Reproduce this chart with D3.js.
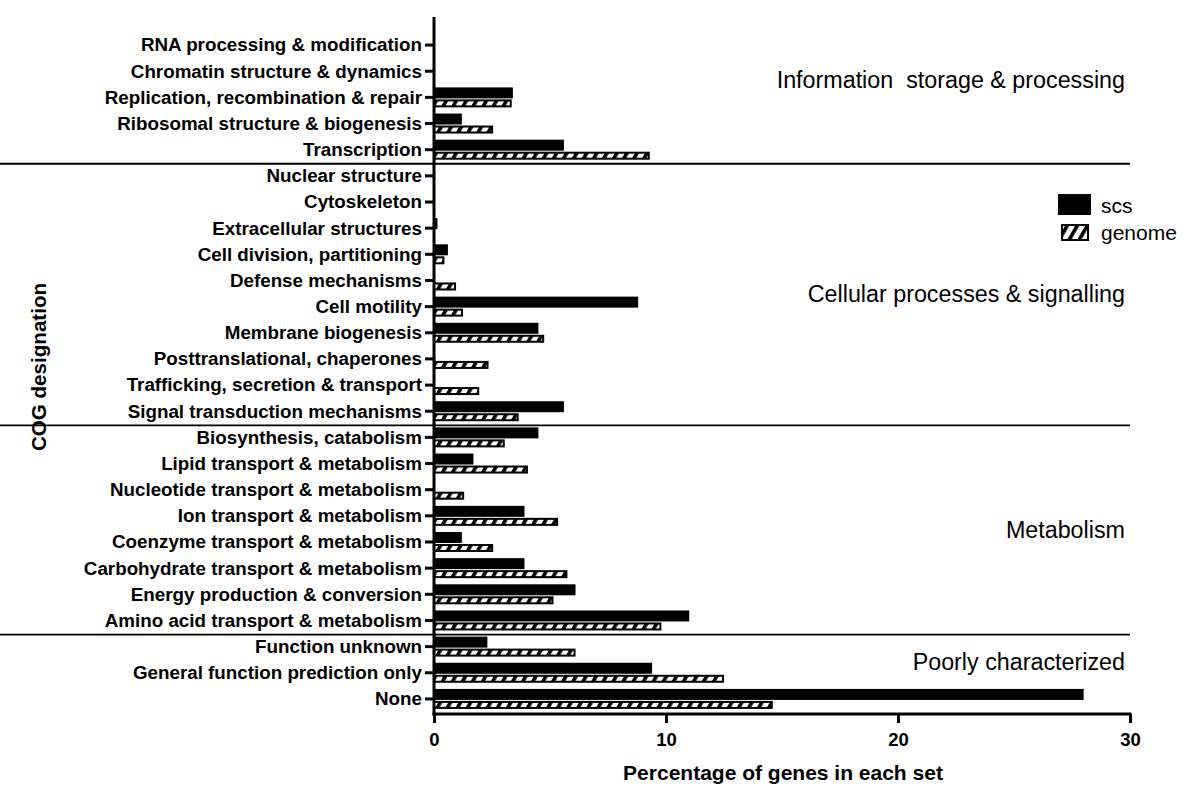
<!DOCTYPE html>
<html><head><meta charset="utf-8">
<script src="https://cdn.jsdelivr.net/npm/d3@7"></script>
<style>body{margin:0;background:#fff}svg{display:block}text{font-family:"Liberation Sans",Arial,sans-serif}</style>
</head><body>
<svg id="c" width="1200" height="805"></svg>
<script>
const categories = [
"RNA processing & modification","Chromatin structure & dynamics","Replication, recombination & repair","Ribosomal structure & biogenesis","Transcription",
"Nuclear structure","Cytoskeleton","Extracellular structures","Cell division, partitioning","Defense mechanisms","Cell motility","Membrane biogenesis","Posttranslational, chaperones","Trafficking, secretion & transport","Signal transduction mechanisms",
"Biosynthesis, catabolism","Lipid transport & metabolism","Nucleotide transport & metabolism","Ion transport & metabolism","Coenzyme transport & metabolism","Carbohydrate transport & metabolism","Energy production & conversion","Amino acid transport & metabolism",
"Function unknown","General function prediction only","None"];
const scs    = [0,0,3.4,1.2,5.6, 0,0,0.15,0.6,0,8.8,4.5,0,0,5.6, 4.5,1.7,0,3.9,1.2,3.9,6.1,11.0, 2.3,9.4,28.0];
const genome = [0,0,3.35,2.55,9.3, 0,0,0,0.45,0.95,1.25,4.75,2.35,1.95,3.65, 3.05,4.05,1.3,5.35,2.55,5.75,5.15,9.8, 6.1,12.5,14.6];
const groups = [
 {label:"Information  storage & processing", first:0, last:4},
 {label:"Cellular processes & signalling", first:5, last:14},
 {label:"Metabolism", first:15, last:22},
 {label:"Poorly characterized", first:23, last:25}];
const xTicks = [0,10,20,30];
const seriesNames = ["scs","genome"];

const svg = d3.select("#c");
const x = d3.scaleLinear().domain([0,30]).range([434,1130]);
const y = d3.scaleBand().domain(categories).range([32,712]).padding(0);

const defs = svg.append("defs");
const pat = defs.append("pattern").attr("id","hatch").attr("patternUnits","userSpaceOnUse")
  .attr("width",8.7).attr("height",10).attr("patternTransform","rotate(30)");
pat.append("rect").attr("width",8.7).attr("height",10).attr("fill","#fff");
pat.append("rect").attr("width",3.6).attr("height",10).attr("fill","#000");

// group separators
const seps = [groups[1].first, groups[2].first, groups[3].first];
svg.selectAll(".sep").data(seps).enter().append("line")
  .attr("x1",0).attr("x2",1130)
  .attr("y1",d=>y(categories[d])+1).attr("y2",d=>y(categories[d])+1)
  .attr("stroke","#000").attr("stroke-width",1.8);

// bars
const c = d=>y(d)+y.bandwidth()/2;
svg.selectAll(".b1").data(categories).enter().filter((d,i)=>scs[i]>0).append("rect")
  .attr("x",x(0)).attr("y",d=>c(d)-10).attr("height",11)
  .attr("width",d=>x(scs[categories.indexOf(d)])-x(0)).attr("fill","#000");
svg.selectAll(".b2").data(categories).enter().filter((d,i)=>genome[i]>0).append("rect")
  .attr("x",x(0)).attr("y",d=>c(d)+3).attr("height",6)
  .attr("width",d=>x(genome[categories.indexOf(d)])-x(0)-1)
  .attr("fill","url(#hatch)").attr("stroke","#000").attr("stroke-width",2);

// y axis
const ya = svg.append("g").attr("transform",`translate(${x(0)},0)`)
  .call(d3.axisLeft(y).tickSize(9).tickPadding(3));
ya.select(".domain").remove();
ya.selectAll(".tick line").attr("stroke-width",3);
ya.selectAll(".tick text").attr("font-size",18.8).attr("font-weight","bold").attr("fill","#000")
  .attr("dy","0.34em");
svg.append("line").attr("x1",x(0)).attr("x2",x(0)).attr("y1",17).attr("y2",715.5)
  .attr("stroke","#000").attr("stroke-width",3);

// x axis
const xa = svg.append("g").attr("transform","translate(0,714)")
  .call(d3.axisBottom(x).tickValues(xTicks).tickSize(9).tickPadding(10).tickFormat(d3.format("d")));
xa.select(".domain").remove();
xa.selectAll(".tick line").attr("stroke-width",3);
xa.selectAll(".tick text").attr("font-size",18.5).attr("font-weight","bold").attr("fill","#000");
svg.append("line").attr("x1",x(0)-1.5).attr("x2",1131.5).attr("y1",714).attr("y2",714)
  .attr("stroke","#000").attr("stroke-width",3);

// titles
svg.append("text").attr("x",(x(0)+x(30))/2+1).attr("y",780).attr("text-anchor","middle")
  .attr("font-size",21).attr("font-weight","bold").text("Percentage of genes in each set");
svg.append("text").attr("transform","translate(46,367) rotate(-90)").attr("text-anchor","middle")
  .attr("font-size",20.6).attr("font-weight","bold").text("COG designation");

// group labels
const glY = [80,294,530,662];
svg.selectAll(".gl").data(groups).enter().append("text")
  .attr("x",1125).attr("y",(d,i)=>glY[i]+8).attr("text-anchor","end")
  .attr("font-size",23.3).style("white-space","pre").text(d=>d.label);

// legend
const lg = svg.append("g");
lg.append("rect").attr("x",1058).attr("y",194).attr("width",33).attr("height",21).attr("fill","#000");
lg.append("rect").attr("x",1062).attr("y",225).attr("width",26).attr("height",15)
  .attr("fill","url(#hatch)").attr("stroke","#000").attr("stroke-width",2);
lg.selectAll(".lt").data(seriesNames).enter().append("text")
  .attr("x",1101).attr("y",(d,i)=>213+i*27).attr("font-size",21).text(d=>d);
</script>
</body></html>
